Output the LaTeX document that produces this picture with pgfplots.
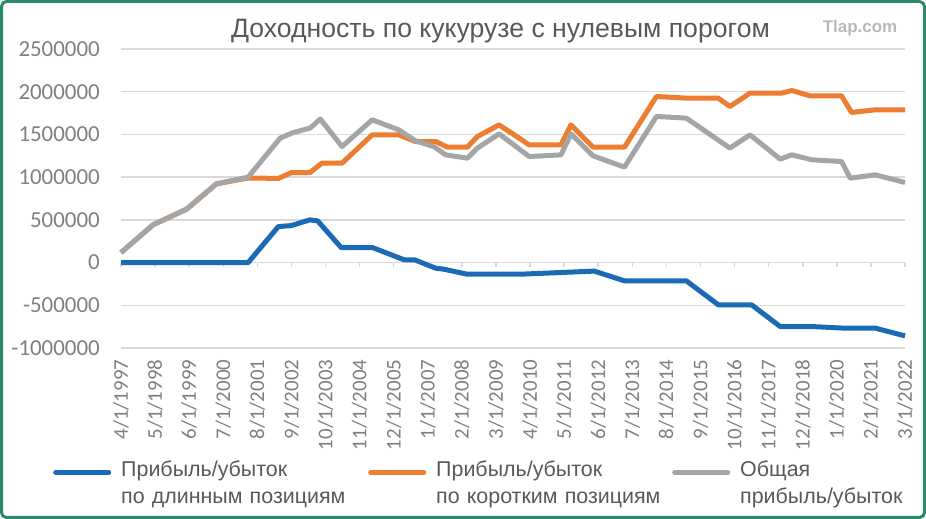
\documentclass[border=0pt]{standalone}
\usepackage{pgfplots}
\pgfplotsset{compat=1.18}
\usepackage{fontspec}
\setmainfont{Liberation Sans}
\newfontfamily\carlito{Carlito}
\definecolor{cblue}{HTML}{1A6AB5}
\definecolor{corange}{HTML}{ED7D31}
\definecolor{cgray}{HTML}{A5A5A5}
\definecolor{gridc}{HTML}{D9D9D9}
\definecolor{txtc}{HTML}{595959}
\definecolor{tickc}{HTML}{808080}
\definecolor{bordergreen}{HTML}{2A8A6E}
\begin{document}
\begin{tikzpicture}
\path[use as bounding box, fill=white] (0,0) rectangle (926bp,519bp);
\draw[line width=3bp, draw=bordergreen, rounded corners=5bp] (1.5bp,1.5bp) rectangle (924.5bp,517.5bp);
\node[anchor=base, text=txtc, font=\fontsize{26.7}{30}\selectfont] at (500.5bp,481bp) {Доходность по кукурузе с нулевым порогом};
\node[anchor=base, text=gray!55, font=\bfseries\fontsize{17}{20}\selectfont] at (860bp,486bp) {Tlap.com};
\begin{axis}[
  at={(121bp,171bp)}, anchor=south west,
  scale only axis, width=784bp, height=299bp,
  xmin=0, xmax=299, ymin=-1000000, ymax=2500000,
  clip=false,
  axis x line*=middle, axis y line*=left,
  hide obscured x ticks=false,
  x axis line style={draw=gridc, line width=1.5bp},
  y axis line style={draw=none},
  ymajorgrids, grid style={draw=gridc, line width=1.5bp},
  xtick={0,13,...,299},
  xticklabels={4/1/1997,5/1/1998,6/1/1999,7/1/2000,8/1/2001,9/1/2002,10/1/2003,11/1/2004,12/1/2005,1/1/2007,2/1/2008,3/1/2009,4/1/2010,5/1/2011,6/1/2012,7/1/2013,8/1/2014,9/1/2015,10/1/2016,11/1/2017,12/1/2018,1/1/2020,2/1/2021,3/1/2022},
  xticklabel shift=93bp,
  x tick label style={rotate=90, anchor=east, inner sep=0pt, text=tickc, font=\carlito\fontsize{21}{21}\selectfont},
  tick align=outside, major tick length=4bp,
  xtick style={draw=gridc, line width=1.5bp},
  ytick={-1000000,-500000,0,500000,1000000,1500000,2000000,2500000},
  yticklabels={-1000000,-500000,0,500000,1000000,1500000,2000000,2500000},
  scaled y ticks=false,
  ytick style={draw=none},
  y tick label style={anchor=east, inner sep=0pt, xshift=-17bp, text=tickc, font=\carlito\fontsize{23}{23}\selectfont},
  legend columns=3,
  legend style={at={(axis description cs:-0.0867,-0.37)}, anchor=north west, draw=none, fill=none, inner sep=0pt, text=txtc, font=\fontsize{21.5}{27}\selectfont, cells={align=left, inner sep=0pt}, /tikz/every odd column/.append style={column sep=8bp}},
  legend image code/.code={\draw[#1, line width=5bp, line cap=round] (0bp,-3bp) -- (53bp,-3bp);},
]
\addplot[cblue, line width=5bp, line join=round] coordinates {
(0,0) (48.5,0) (60,421500) (65,433000) (72,500000) (75,488000) (84,175000) (96,175000) (108,32000) (112,32000) (120,-66000) (123,-77000) (132,-136000) (152.5,-136000) (180.5,-100000) (192,-214000) (215.6,-214000) (227.8,-495000) (240.5,-495000) (251.4,-749000) (263.5,-749000) (276,-768000) (287.7,-768000) (299,-858000)
};
\addlegendentry[text width=245bp]{Прибыль/убыток\\по длинным позициям}
\addplot[corange, line width=5bp, line join=round] coordinates {
(0,117000) (12.2,441500) (25,625000) (36.4,921600) (48.5,990000) (60,985000) (65.1,1054000) (72.1,1054000) (76.6,1164000) (84.3,1164000) (95.8,1495000) (105.9,1495000) (112.3,1417000) (120,1417000) (124.5,1351000) (132.1,1351000) (135.9,1475000) (144.2,1612000) (155.7,1378000) (167.8,1378000) (171.6,1612000) (180,1351000) (192,1351000) (204.2,1944000) (215.6,1925000) (227.8,1925000) (232.2,1827000) (239.9,1984000) (252,1984000) (255.8,2014000) (262.8,1952000) (274.8,1952000) (278.6,1757000) (287.7,1788000) (299,1788000)
};
\addlegendentry[text width=234bp]{Прибыль/убыток\\по коротким позициям}
\addplot[cgray, line width=5bp, line join=round] coordinates {
(0,117000) (12.2,441500) (25,625000) (36.4,921600) (48.5,1000000) (60.7,1457000) (65.7,1522000) (72.1,1574000) (76,1680000) (84.3,1358000) (95.8,1671000) (105.9,1554000) (112.3,1425000) (119.3,1358000) (123.8,1261000) (132.1,1222000) (135.9,1340000) (144.2,1507000) (155.7,1241000) (167.8,1261000) (171.6,1507000) (180,1250000) (192,1117000) (204.2,1710000) (215.6,1691000) (232.2,1340000) (239.9,1495000) (251.4,1211000) (255.8,1261000) (263.5,1203000) (274.8,1183000) (278.1,988000) (287.7,1027000) (299,937000)
};
\addlegendentry[text width=175bp]{Общая\\прибыль/убыток}
\end{axis}
\end{tikzpicture}
\end{document}
